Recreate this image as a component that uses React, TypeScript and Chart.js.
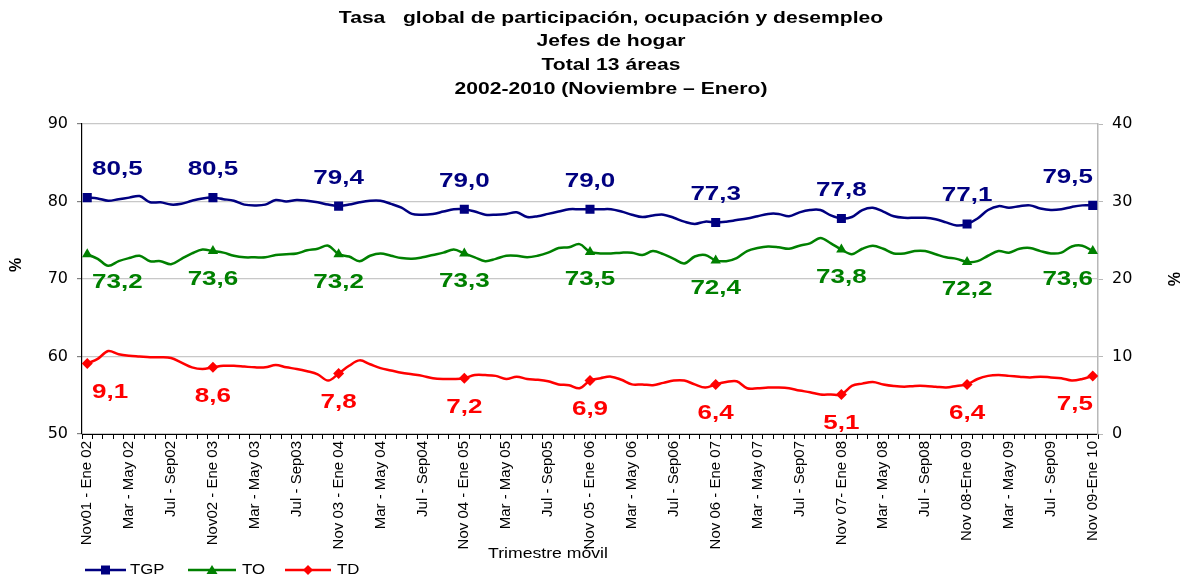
import React, { useEffect, useRef } from "react";
import { Chart, registerables } from "chart.js";

Chart.register(...registerables);

const TITLE_LINES = [
  "Tasa   global de participación, ocupación y desempleo",
  "Jefes de hogar",
  "Total 13 áreas",
  "2002-2010 (Noviembre – Enero)",
];

const TICK_LABELS = [
  "Nov01 - Ene 02", "Mar - May 02", "Jul - Sep02",
  "Nov02 - Ene 03", "Mar - May 03", "Jul - Sep03",
  "Nov 03 - Ene 04", "Mar - May 04", "Jul - Sep04",
  "Nov 04 - Ene 05", "Mar - May 05", "Jul - Sep05",
  "Nov 05 - Ene 06", "Mar - May 06", "Jul - Sep06",
  "Nov 06 - Ene 07", "Mar - May 07", "Jul - Sep07",
  "Nov 07- Ene 08", "Mar - May 08", "Jul - Sep08",
  "Nov 08-Ene 09", "Mar - May 09", "Jul - Sep09",
  "Nov 09-Ene 10",
];

// TGP – Tasa global de participación (left axis, %)
const TGP = [
  80.5, 80.4, 80.1, 80.3, 80.5, 80.7, 79.9, 79.9, 79.6, 79.7, 80.1, 80.4,
  80.5, 80.3, 80.1, 79.6, 79.5, 79.6, 80.2, 80.0, 80.2, 80.1, 79.9, 79.6,
  79.4, 79.6, 79.9, 80.1, 80.1, 79.7, 79.2, 78.4, 78.3, 78.4, 78.7, 79.0,
  79.0, 78.7, 78.3, 78.3, 78.4, 78.6, 78.0, 78.1, 78.4, 78.7, 79.0, 79.0,
  79.0, 79.0, 79.0, 78.7, 78.3, 78.0, 78.2, 78.3, 77.9, 77.4, 77.1, 77.4,
  77.3, 77.4, 77.6, 77.8, 78.1, 78.4, 78.4, 78.1, 78.6, 78.9, 78.9, 78.2,
  77.8, 78.0, 78.9, 79.2, 78.7, 78.1, 77.9, 77.9, 77.9, 77.7, 77.3, 76.9,
  77.1, 77.8, 78.9, 79.4, 79.2, 79.4, 79.5, 79.1, 78.9, 79.0, 79.3, 79.5,
  79.5,
];

// TO – Tasa de ocupación (left axis, %)
const TO = [
  73.2, 72.6, 71.7, 72.3, 72.7, 73.0, 72.3, 72.3, 71.9, 72.6, 73.3, 73.8,
  73.6, 73.4, 73.0, 72.8, 72.8, 72.8, 73.1, 73.2, 73.3, 73.7, 73.9, 74.3,
  73.2, 72.9, 72.3, 73.0, 73.3, 73.0, 72.7, 72.6, 72.8, 73.1, 73.4, 73.8,
  73.3, 72.8, 72.3, 72.6, 73.0, 73.0, 72.8, 73.0, 73.4, 74.0, 74.1, 74.5,
  73.5, 73.3, 73.3, 73.4, 73.4, 73.1, 73.6, 73.2, 72.6, 72.0, 72.9, 73.1,
  72.4, 72.3, 72.7, 73.6, 74.0, 74.2, 74.1, 73.9, 74.3, 74.6, 75.3, 74.6,
  73.8, 73.2, 73.9, 74.3, 73.9, 73.3, 73.3, 73.6, 73.6, 73.2, 72.8, 72.6,
  72.2, 72.3, 73.0, 73.6, 73.4, 73.9, 74.0, 73.6, 73.3, 73.4, 74.2, 74.3,
  73.6,
];

// TD – Tasa de desempleo (right axis, %)
const TD = [
  9.1, 9.7, 10.7, 10.3, 10.1, 10.0, 9.9, 9.9, 9.8, 9.2, 8.6, 8.4,
  8.6, 8.8, 8.8, 8.7, 8.6, 8.6, 8.9, 8.6, 8.4, 8.1, 7.7, 6.9,
  7.8, 8.8, 9.5, 9.0, 8.5, 8.2, 7.9, 7.7, 7.5, 7.2, 7.1, 7.1,
  7.2, 7.6, 7.6, 7.5, 7.1, 7.4, 7.1, 7.0, 6.8, 6.4, 6.3, 5.9,
  6.9, 7.2, 7.4, 7.0, 6.4, 6.4, 6.3, 6.6, 6.9, 6.9, 6.4, 6.0,
  6.4, 6.7, 6.8, 5.9, 5.9, 6.0, 6.0, 5.9, 5.6, 5.4, 5.1, 5.1,
  5.1, 6.2, 6.5, 6.7, 6.4, 6.2, 6.1, 6.2, 6.2, 6.1, 6.0, 6.2,
  6.4, 7.1, 7.5, 7.6, 7.5, 7.4, 7.3, 7.4, 7.3, 7.2, 6.9, 7.1,
  7.5,
];

const SERIES_NAMES = ["TGP", "TO", "TD"];
const SERIES_COLORS = ["#000080", "#008000", "#ff0000"];
const MARK_EVERY = 12;
const LABEL_EVERY = 4;

const CATEGORIES = TGP.map((_, i) =>
  i % LABEL_EVERY === 0 ? TICK_LABELS[i / LABEL_EVERY] : ""
);

const SX = 1.26; // horizontal stretch of the reference texts

function drawText(
  ctx: CanvasRenderingContext2D,
  text: string,
  x: number,
  y: number,
  font: string,
  color: string,
  align: CanvasTextAlign,
  sx = SX,
  rot = 0
) {
  ctx.save();
  ctx.font = font;
  ctx.fillStyle = color;
  ctx.textAlign = align;
  ctx.textBaseline = "middle";
  ctx.translate(x, y);
  if (rot) ctx.rotate(rot);
  ctx.scale(sx, 1);
  ctx.fillText(text, 0, 0);
  ctx.restore();
}

function drawMarker(ctx: CanvasRenderingContext2D, kind: number, x: number, y: number, color: string) {
  ctx.save();
  ctx.fillStyle = color;
  ctx.beginPath();
  if (kind === 0) {
    ctx.rect(x - 4.5, y - 4.5, 9, 9);
  } else if (kind === 1) {
    ctx.moveTo(x, y - 5);
    ctx.lineTo(x + 5.5, y + 4);
    ctx.lineTo(x - 5.5, y + 4);
    ctx.closePath();
  } else {
    ctx.moveTo(x, y - 5);
    ctx.lineTo(x + 5, y);
    ctx.lineTo(x, y + 5);
    ctx.lineTo(x - 5, y);
    ctx.closePath();
  }
  ctx.fill();
  ctx.restore();
}

const decorPlugin = {
  id: "decor",
  afterDatasetsDraw(chart: any) {
    const ctx: CanvasRenderingContext2D = chart.ctx;
    const { left, right } = chart.chartArea;
    const LABEL_DY = [-28, 28, 29];
    chart.data.datasets.forEach((ds: any, di: number) => {
      const meta = chart.getDatasetMeta(di);
      meta.data.forEach((pt: any, i: number) => {
        if (i % MARK_EVERY !== 0) return;
        const v = ds.data[i] as number;
        const text = v.toFixed(1).replace(".", ",");
        const font = 'bold 20px "Liberation Sans", Arial, sans-serif';
        ctx.save();
        ctx.font = font;
        const w = ctx.measureText(text).width * 1.3;
        ctx.restore();
        let x = pt.x;
        x = Math.max(left + w / 2 + 10, Math.min(right - w / 2 - 5, x));
        drawText(ctx, text, x, pt.y + LABEL_DY[di], font, SERIES_COLORS[di], "center", 1.3);
      });
    });
  },
  afterDraw(chart: any) {
    const ctx: CanvasRenderingContext2D = chart.ctx;
    // Title
    const titleY = [18, 41, 65, 89];
    TITLE_LINES.forEach((t, k) =>
      drawText(ctx, t, 611, titleY[k], 'bold 17px "Liberation Sans", Arial, sans-serif', "#000", "center", 1.24)
    );
    // Axis titles
    drawText(ctx, "%", 17, 265, 'bold 16px "Liberation Sans", Arial, sans-serif', "#000", "center", 1, -Math.PI / 2);
    drawText(ctx, "%", 1172, 279, 'bold 16px "Liberation Sans", Arial, sans-serif', "#000", "center", 1, Math.PI / 2);
    drawText(ctx, "Trimestre móvil", 548, 554, '14px "Liberation Sans", Arial, sans-serif', "#000", "center");
    // Legend
    const items = [
      { x0: 85, x1: 126, tx: 130 },
      { x0: 188, x1: 236, tx: 242 },
      { x0: 285, x1: 331, tx: 337 },
    ];
    const ly = 570;
    items.forEach((it, k) => {
      ctx.save();
      ctx.strokeStyle = SERIES_COLORS[k];
      ctx.lineWidth = 2.5;
      ctx.beginPath();
      ctx.moveTo(it.x0, ly);
      ctx.lineTo(it.x1, ly);
      ctx.stroke();
      ctx.restore();
      drawMarker(ctx, k, (it.x0 + it.x1) / 2, ly, SERIES_COLORS[k]);
      drawText(ctx, SERIES_NAMES[k], it.tx, ly, '14px "Liberation Sans", Arial, sans-serif', "#000", "left", 1.2);
    });
  },
};

export default function App() {
  const ref = useRef<HTMLCanvasElement | null>(null);

  useEffect(() => {
    if (!ref.current) return;
    const radius = (r: number) => (c: any) => (c.dataIndex % MARK_EVERY === 0 ? r : 0);
    const common = { borderWidth: 2.5, pointBorderWidth: 0, tension: 0.35 };
    const chart = new Chart(ref.current, {
      type: "line",
      data: {
        labels: CATEGORIES,
        datasets: [
          {
            ...common,
            label: SERIES_NAMES[0],
            data: TGP,
            yAxisID: "y",
            borderColor: SERIES_COLORS[0],
            backgroundColor: SERIES_COLORS[0],
            pointStyle: "rect",
            pointRadius: radius(6.4),
          },
          {
            ...common,
            label: SERIES_NAMES[1],
            data: TO,
            yAxisID: "y",
            borderColor: SERIES_COLORS[1],
            backgroundColor: SERIES_COLORS[1],
            pointStyle: "triangle",
            pointRadius: radius(6),
          },
          {
            ...common,
            label: SERIES_NAMES[2],
            data: TD,
            yAxisID: "y1",
            borderColor: SERIES_COLORS[2],
            backgroundColor: SERIES_COLORS[2],
            pointStyle: "rectRot",
            pointRadius: radius(5.5),
          },
        ],
      },
      options: {
        animation: false,
        responsive: false,
        layout: { padding: { top: 124, left: 0, right: 0, bottom: 0 } },
        plugins: {
          legend: { display: false },
          title: { display: false },
          tooltip: { enabled: false },
        },
        scales: {
          x: {
            type: "category",
            offset: true,
            grid: {
              display: true,
              offset: true,
              drawOnChartArea: false,
              drawTicks: true,
              tickLength: 5,
              color: "#000",
              tickColor: "#000",
            },
            border: { color: "#000", width: 1 },
            ticks: {
              autoSkip: false,
              maxRotation: 90,
              minRotation: 90,
              padding: 2,
              color: "#000",
              font: { family: '"Liberation Sans", Arial, sans-serif', size: 15 },
            },
            afterFit: (s: any) => {
              s.height = 141;
            },
          },
          y: {
            position: "left",
            min: 50,
            max: 90,
            ticks: {
              stepSize: 10,
              padding: 9,
              color: "#000",
              font: { family: '"DejaVu Sans", sans-serif', size: 16 },
            },
            grid: { color: "#c8c8c8", tickColor: "#808080", tickLength: 5, lineWidth: 1.2 },
            border: { color: "#000", width: 1.2 },
            afterFit: (s: any) => {
              s.width = 82;
            },
          },
          y1: {
            position: "right",
            min: 0,
            max: 40,
            ticks: {
              stepSize: 10,
              padding: 9,
              color: "#000",
              font: { family: '"DejaVu Sans", sans-serif', size: 16 },
            },
            grid: { drawOnChartArea: false, tickColor: "#b8b8b8", tickLength: 5 },
            border: { color: "#b8b8b8", width: 1.5 },
            afterFit: (s: any) => {
              s.width = 85;
            },
          },
        },
      } as any,
      plugins: [decorPlugin],
    });
    return () => chart.destroy();
  }, []);

  return (
    <div style={{ position: "absolute", left: 0, top: 0, width: 1183, height: 575, background: "#fff" }}>
      <canvas ref={ref} width={1183} height={575} style={{ display: "block" }} />
    </div>
  );
}
